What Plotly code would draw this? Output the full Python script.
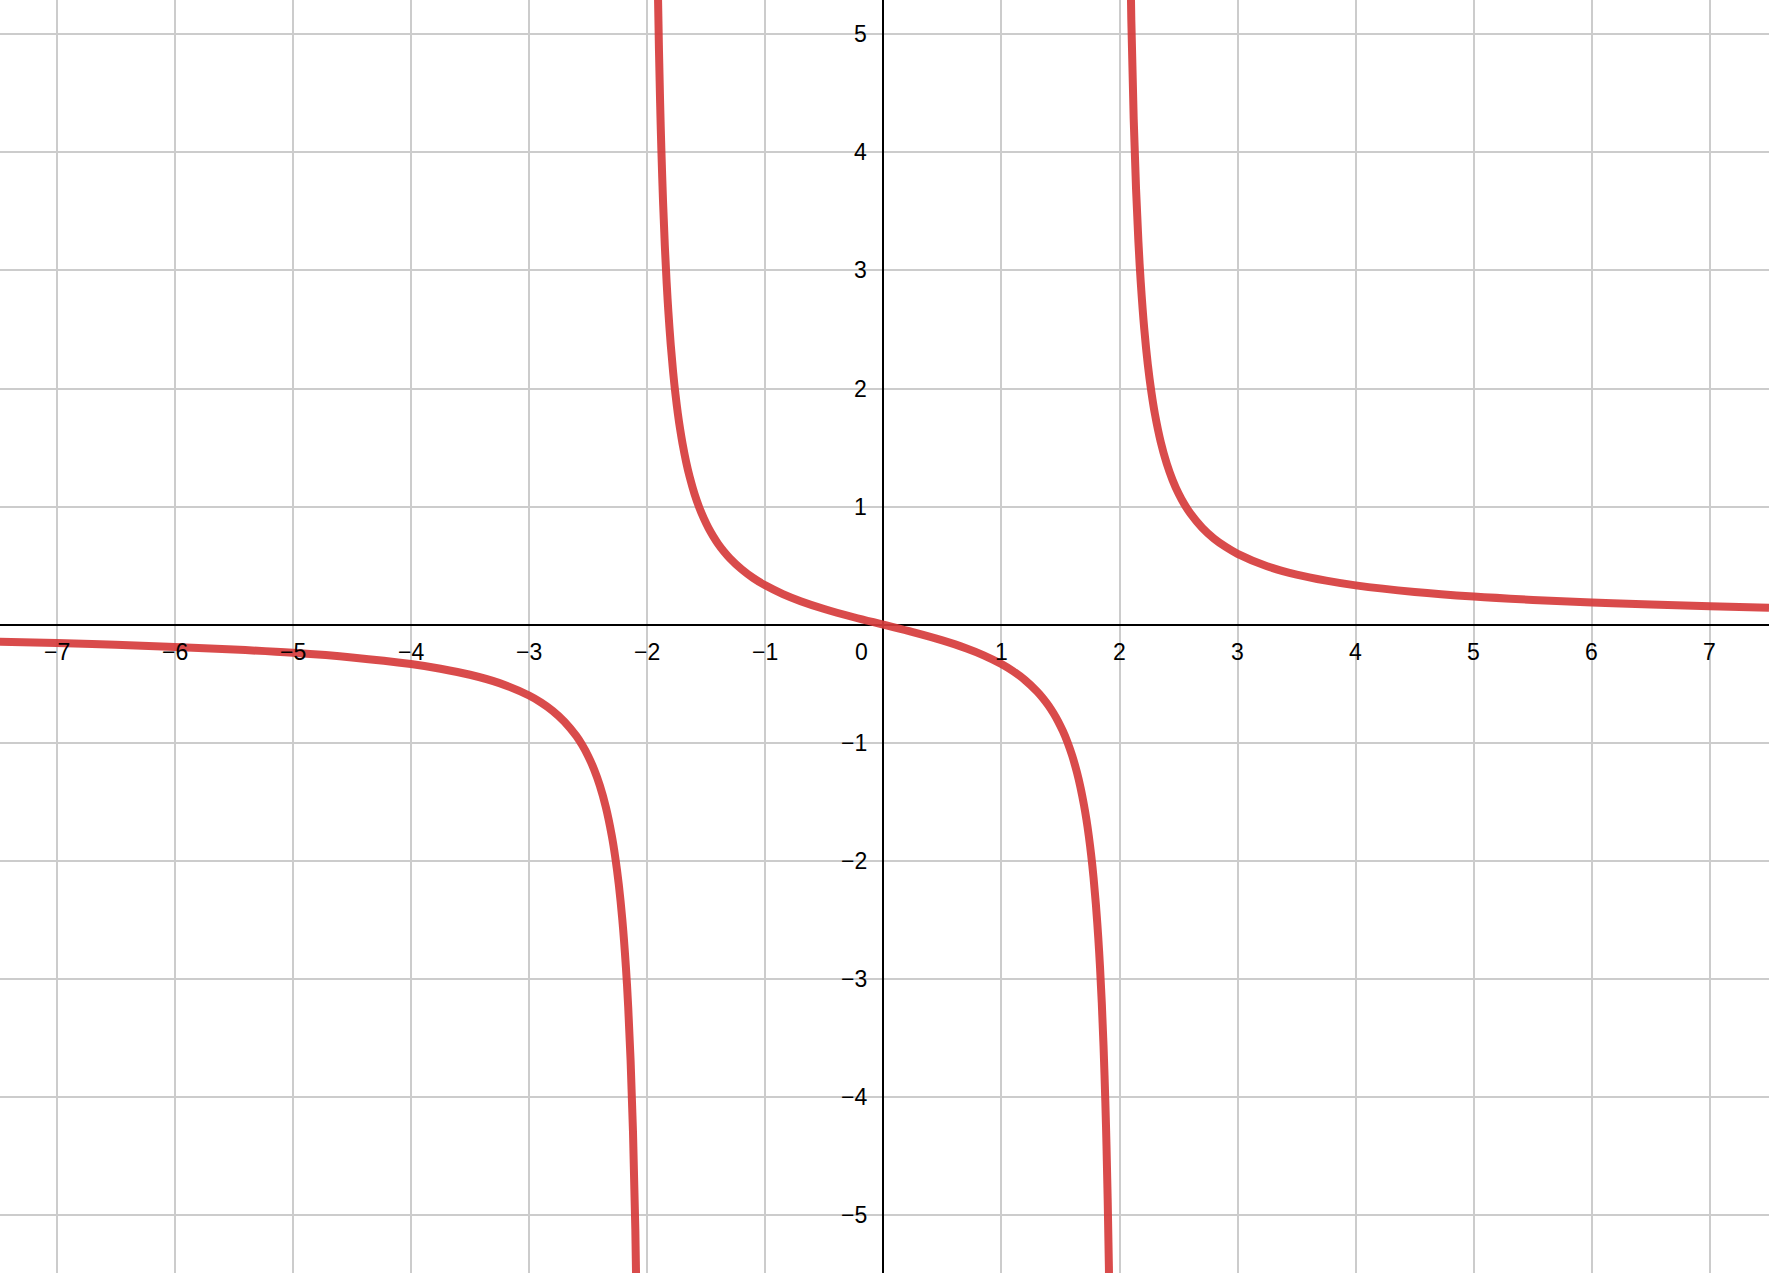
import plotly.graph_objects as go

# curve values, three branches split by the vertical asymptotes
left_x = [-7.5, -7, -6.5, -6, -5.5, -5, -4.5, -4, -3.75, -3.5, -3.25, -3, -2.9, -2.8, -2.7,
          -2.6, -2.55, -2.5, -2.45, -2.4, -2.35, -2.3, -2.27, -2.24, -2.21, -2.18, -2.16,
          -2.14, -2.12, -2.1, -2.08]
left_y = [-0.144, -0.156, -0.170, -0.188, -0.210, -0.238, -0.277, -0.333, -0.373, -0.424, -0.495,
          -0.600, -0.658, -0.729, -0.821, -0.942, -1.019, -1.111, -1.224, -1.364, -1.544, -1.783,
          -1.969, -2.201, -2.500, -2.897, -3.245, -3.692, -4.288, -5.122, -6.370]

mid_x = [-1.92, -1.91, -1.9, -1.89, -1.88, -1.865, -1.85, -1.835, -1.82, -1.8, -1.78, -1.76,
         -1.74, -1.72, -1.7, -1.67, -1.64, -1.6, -1.56, -1.52, -1.48, -1.44, -1.4, -1.35, -1.3,
         -1.2, -1.1, -1.0, -0.85, -0.7, -0.5, -0.25, 0.0,
         0.25, 0.5, 0.7, 0.85, 1.0, 1.1, 1.2, 1.3, 1.35, 1.4, 1.44, 1.48, 1.52, 1.56, 1.6,
         1.64, 1.67, 1.7, 1.72, 1.74, 1.76, 1.78, 1.8, 1.82, 1.835, 1.85, 1.865, 1.88, 1.89,
         1.9, 1.91, 1.92]
mid_y = [6.122, 5.427, 4.872, 4.417, 4.038, 3.574, 3.203, 2.900, 2.647, 2.368, 2.140, 1.950,
         1.789, 1.651, 1.532, 1.379, 1.252, 1.111, 0.996, 0.900, 0.818, 0.748, 0.686, 0.620, 0.563,
         0.469, 0.394, 0.333, 0.259, 0.199, 0.133, 0.063, 0.0,
         -0.063, -0.133, -0.199, -0.259, -0.333, -0.394, -0.469, -0.563, -0.620, -0.686, -0.748,
         -0.818, -0.900, -0.996, -1.111, -1.252, -1.379, -1.532, -1.651, -1.789, -1.950, -2.140,
         -2.368, -2.647, -2.900, -3.203, -3.574, -4.038, -4.417, -4.872, -5.427, -6.122]

right_x = [2.08, 2.1, 2.12, 2.14, 2.16, 2.18, 2.21, 2.24, 2.27, 2.3, 2.35, 2.4, 2.45, 2.5, 2.55,
           2.6, 2.7, 2.8, 2.9, 3, 3.25, 3.5, 3.75, 4, 4.5, 5, 5.5, 6, 6.5, 7, 7.5]
right_y = [6.370, 5.122, 4.288, 3.692, 3.245, 2.897, 2.500, 2.201, 1.969, 1.783, 1.544, 1.364,
           1.224, 1.111, 1.019, 0.942, 0.821, 0.729, 0.658, 0.600, 0.495, 0.424, 0.373, 0.333,
           0.277, 0.238, 0.210, 0.188, 0.170, 0.156, 0.144]

x_ticks = [-7, -6, -5, -4, -3, -2, -1, 1, 2, 3, 4, 5, 6, 7]
y_ticks = [-5, -4, -3, -2, -1, 1, 2, 3, 4, 5]

line_color = "rgba(214,60,60,0.92)"
label_font = dict(family="Liberation Sans, Arial, sans-serif", size=23, color="black")

fig = go.Figure()
for bx, by in [(left_x, left_y), (mid_x, mid_y), (right_x, right_y)]:
    fig.add_trace(go.Scatter(x=bx, y=by, mode="lines",
                             line=dict(color=line_color, width=8, shape="spline", smoothing=1.0),
                             hoverinfo="skip", showlegend=False))

# tick labels sit along the axes, like a graphing calculator
ann = []
for t in x_ticks:
    ann.append(dict(x=t, y=0, text=str(t).replace("-", "\u2212"), showarrow=False,
                    xanchor="center", yanchor="middle", yshift=-27, font=label_font))
for t in y_ticks:
    ann.append(dict(x=0, y=t, text=str(t).replace("-", "\u2212"), showarrow=False,
                    xanchor="right", yanchor="middle", xshift=-14, font=label_font))
ann.append(dict(x=0, y=0, text="0", showarrow=False, xanchor="center", yanchor="middle",
                xshift=-22, yshift=-27, font=label_font))

fig.update_layout(
    width=1769, height=1273,
    margin=dict(l=0, r=0, t=0, b=0),
    plot_bgcolor="white", paper_bgcolor="white",
    annotations=ann,
)
fig.update_xaxes(range=[-7.48, 7.5], dtick=1, tick0=0, showgrid=True, gridcolor="#cccccc",
                 gridwidth=2, zeroline=True, zerolinecolor="black", zerolinewidth=2,
                 showticklabels=False, ticks="", fixedrange=True)
fig.update_yaxes(range=[-5.49, 5.29], dtick=1, tick0=0, showgrid=True, gridcolor="#cccccc",
                 gridwidth=2, zeroline=True, zerolinecolor="black", zerolinewidth=2,
                 showticklabels=False, ticks="", fixedrange=True)

fig.write_html("out.html", config={"displayModeBar": False},
               post_script="document.body.style.margin='0';document.body.style.overflow='hidden';")
